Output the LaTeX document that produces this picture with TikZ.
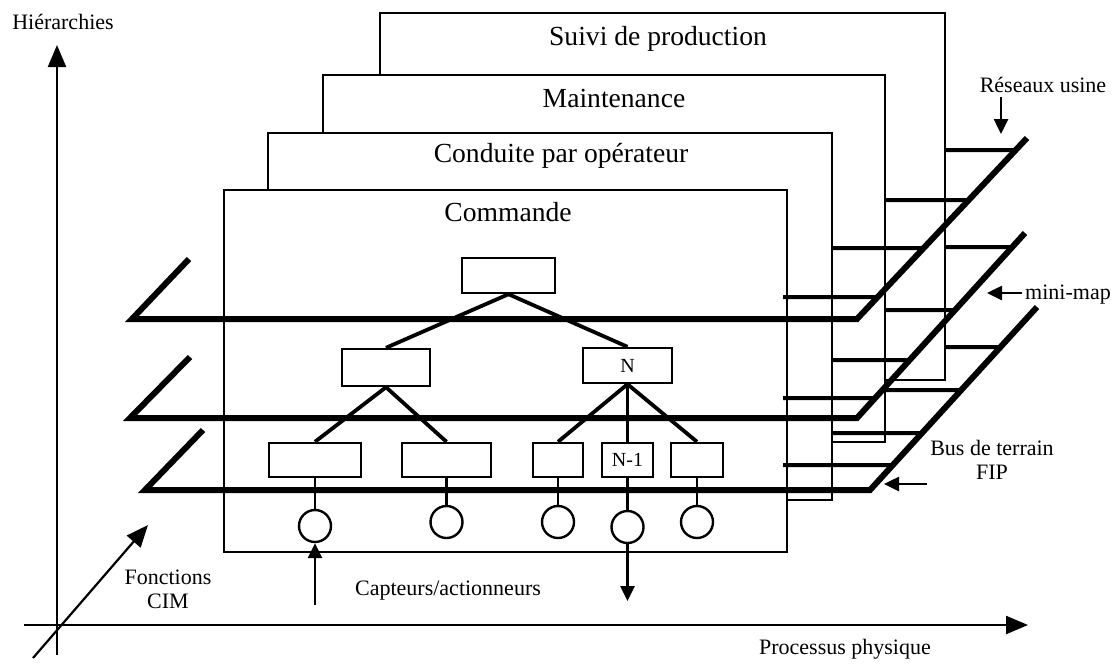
\documentclass[tikz,border=0pt]{standalone}
\usepackage{fontspec}
\setmainfont{Liberation Serif}
\usetikzlibrary{arrows.meta}

\tikzset{
  plan/.style={draw, fill=white, line width=1.2pt},
  bus/.style={line width=3pt},
  link/.style={line width=2pt},
  branch/.style={line width=1.9pt},
  unit/.style={draw, line width=1.2pt, minimum height=17.5pt, inner sep=0pt,
    font=\fontsize{10}{11}\selectfont},
  io/.style={draw, circle, line width=1.2pt, minimum size=16pt, inner sep=0pt},
  title/.style={font=\fontsize{13.8}{16}\selectfont, anchor=base},
  lbl/.style={font=\fontsize{11}{12.5}\selectfont, anchor=base},
  axis/.style={line width=1.1pt, -{Triangle[length=11pt,width=9pt]}},
  tag/.style={line width=1.3pt, -{Triangle[length=7.5pt,width=7pt]}},
}

\begin{document}
\begin{tikzpicture}[x=0.5pt, y=-0.5pt]
    \useasboundingbox (0,0) rectangle (1118,664);
    % axes
    \coordinate (O_b) at (57,655);
    \coordinate (O_t) at (57,45);
    \coordinate (O_l) at (24,625);
    \coordinate (O_r) at (1028,625);
    \coordinate (O_d) at (33,658);
    \coordinate (O_u) at (148,525);
    \draw[axis] (O_b) -- (O_t);
    \draw[axis] (O_l) -- (O_r);
    \draw[axis] (O_d) -- (O_u);
    \node[lbl] (L_h) at (63,29) {Hiérarchies};
    \node[lbl] (L_p) at (845,654) {Processus physique};
    \node[lbl, anchor=center, align=center] (L_f) at (168,589) {Fonctions\\[-0.5pt]CIM};
    % plans
    \draw[plan] (380,13) rectangle (945,380);
    \draw[plan] (323,75) rectangle (885,442);
    \draw[plan] (268,133) rectangle (832,500);
    \draw[plan] (224,190) rectangle (787,552);
    \node[title] (F3_t) at (658,46) {Suivi de production};
    \node[title] (F2_t) at (614,107) {Maintenance};
    \node[title] (F1_t) at (561,162) {Conduite par opérateur};
    \node[title] (F0_t) at (508,221) {Commande};
    % buses
    \coordinate (B0_lt) at (189,259);
    \coordinate (B0_l) at (132,319);
    \coordinate (B0_r) at (857,319);
    \coordinate (B0_rt) at (1027,138);
    \coordinate (B1_lt) at (190,357);
    \coordinate (B1_l) at (130,418);
    \coordinate (B1_r) at (857,418);
    \coordinate (B1_rt) at (1025,233);
    \coordinate (B2_lt) at (203,430);
    \coordinate (B2_l) at (145,490);
    \coordinate (B2_r) at (870,490);
    \coordinate (B2_rt) at (1037,307);
    \foreach \b/\yy/\xx in {0/150/945, 0/200/885, 0/248/832, 0/297/783,
                            1/247/945, 1/310/885, 1/360/832, 1/398/783,
                            2/347/945, 2/390/885, 2/433/832, 2/465/783}
      \draw[link] (\xx,\yy) -- (intersection of B\b_r--B\b_rt and \xx,\yy--1100,\yy);
    \foreach \b in {0,1,2}
      \draw[bus] (B\b_lt) -- (B\b_l) -- (B\b_r) -- (B\b_rt);
    % tree
    \node[unit, minimum width=46.5pt] (T0_0) at (508.5,275.5) {};
    \node[unit, minimum width=44pt, minimum height=18.5pt] (T1_0) at (386,367.5) {};
    \node[unit, minimum width=44.5pt] (T1_1) at (627.5,365.5) {N};
    \node[unit, minimum width=46pt, minimum height=17pt] (T2_0) at (315,460) {};
    \node[unit, minimum width=44.5pt, minimum height=17pt] (T2_1) at (446.5,460) {};
    \node[unit, minimum width=25pt, minimum height=17pt] (T2_2) at (558,460) {};
    \node[unit, minimum width=25.5pt, minimum height=17pt] (T2_3) at (627.5,460) {N-1};
    \node[unit, minimum width=26pt, minimum height=17pt] (T2_4) at (697,460) {};
    \path (T0_0.south) edge [branch] (T1_0.north);
    \path (T0_0.south) edge [branch] (T1_1.north);
    \path (T1_0.south) edge [branch] (T2_0.north);
    \path (T1_0.south) edge [branch] (T2_1.north);
    \path (T1_1.south) edge [branch] (T2_2.north);
    \path (T1_1.south) edge [line width=1.1pt] (T2_3.north);
    \path (T1_1.south) edge [branch] (T2_4.north);
    \node[io] (C2_0) at (315,526) {};
    \node[io] (C2_1) at (446.5,522) {};
    \node[io] (C2_2) at (558,522) {};
    \node[io] (C2_3) at (627.5,527) {};
    \node[io] (C2_4) at (697,522) {};
    \foreach \i in {0,...,4}
      \path (T2_\i.south) edge [line width=1.1pt] (C2_\i.north);
    % sensors and actuators
    \coordinate (S_in) at (315,605);
    \coordinate (S_out) at (627.5,601);
    \draw[tag] (S_in) -- (C2_0.south);
    \draw[tag] (C2_3.south) -- (S_out);
    \node[lbl] (L_c) at (448,595) {Capteurs/actionneurs};
    % network tags
    \coordinate (R_a) at (1001,97);
    \coordinate (R_b) at (1001,134);
    \coordinate (M_a) at (1022,293);
    \coordinate (M_b) at (987,293);
    \coordinate (P_a) at (927,484);
    \coordinate (P_b) at (884,484);
    \draw[tag] (R_a) -- (R_b);
    \draw[tag] (M_a) -- (M_b);
    \draw[tag] (P_a) -- (P_b);
    \node[lbl] (L_r) at (1043,92) {Réseaux usine};
    \node[lbl] (L_m) at (1068,299) {mini-map};
    \node[lbl, anchor=center, align=center] (L_b) at (992,460) {Bus de terrain\\[-0.5pt]FIP};
\end{tikzpicture}
\end{document}
